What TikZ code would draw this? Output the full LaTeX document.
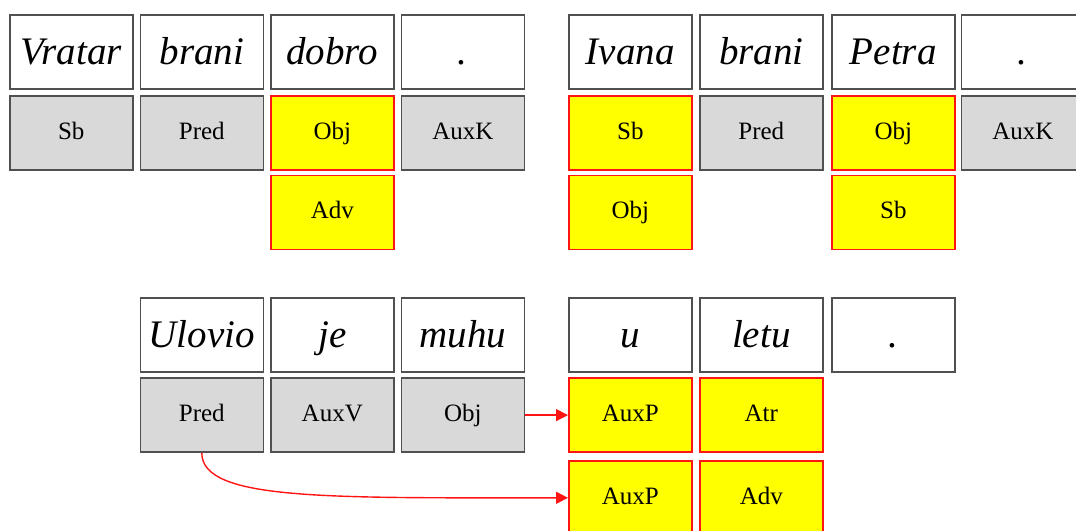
\documentclass[tikz,border=0pt]{standalone}
\usepackage{fontspec}
\setmainfont{Liberation Serif}
\usepackage{tikz}
\usetikzlibrary{arrows.meta,positioning}

\definecolor{tagfill}{RGB}{217,217,217}
\definecolor{altfill}{RGB}{255,255,0}
\definecolor{altline}{RGB}{255,20,20}
\definecolor{boxline}{RGB}{80,80,80}

\tikzset{
	word/.style={draw=boxline, line width=0.8pt, fill=white, anchor=north west, inner sep=0pt,
		text height=14pt, text depth=2pt,
		minimum width=61.5pt, minimum height=37pt, font=\fontsize{19.5}{24}\selectfont\itshape},
	tag/.style={draw=boxline, line width=0.8pt, fill=tagfill, anchor=north west, inner sep=0pt,
		text height=8.5pt, text depth=1.9pt,
		minimum width=61.5pt, minimum height=37pt, font=\fontsize{12.5}{15}\selectfont},
	alt/.style={tag, draw=altline, fill=altfill},
	link/.style={altline, line width=0.7pt, -{Triangle[length=6pt,width=6pt]}}
}

\begin{document}
\begin{tikzpicture}[x=0.5pt,y=-0.5pt]
				\useasboundingbox (0,0) rectangle (1076,530);
				\clip (0,0) rectangle (1076,530);
				% Vratar brani dobro .
				\node[word] (vratar) at (9,14.3) {Vratar};
				\node[word] (brani) at (139.5,14.3) {brani};
				\node[word] (dobro) at (270,14.3) {dobro};
				\node[word] (dotA) at (400.5,14.3) {.};
				\node[tag] (sb) at (9,95) {Sb};
				\node[tag] (pred) at (139.5,95) {Pred};
				\node[alt] (obj) at (270,95) {Obj};
				\node[tag] (auxk) at (400.5,95) {AuxK};
				\node[alt] (adv) at (270,174.5) {Adv};
				% Ivana brani Petra .
				\node[word] (ivana) at (568,14.3) {Ivana};
				\node[word] (braniB) at (699,14.3) {brani};
				\node[word] (petra) at (831,14.3) {Petra};
				\node[word] (dotB) at (960.5,14.3) {.};
				\node[alt] (sbB) at (568,95) {Sb};
				\node[tag] (predB) at (699,95) {Pred};
				\node[alt] (objB) at (831,95) {Obj};
				\node[tag] (auxkB) at (960.5,95) {AuxK};
				\node[alt] (objC) at (568,174.5) {Obj};
				\node[alt] (sbC) at (831,174.5) {Sb};
				% Ulovio je muhu u letu .
				\node[word] (ulovio) at (139.5,297.3) {Ulovio};
				\node[word] (je) at (270,297.3) {je};
				\node[word] (muhu) at (400.5,297.3) {muhu};
				\node[word] (u) at (568,297.3) {u};
				\node[word] (letu) at (699,297.3) {letu};
				\node[word] (dotC) at (831,297.3) {.};
				\node[tag] (predC) at (139.5,377.3) {Pred};
				\node[tag] (auxv) at (270,377.3) {AuxV};
				\node[tag] (objD) at (400.5,377.3) {Obj};
				\node[alt] (auxpA) at (568,377.3) {AuxP};
				\node[alt] (atr) at (699,377.3) {Atr};
				\node[alt] (auxpB) at (568,460) {AuxP};
				\node[alt] (advB) at (699,460) {Adv};
				\draw[link] (objD)--(auxpA);
				\draw[link] (predC.south) .. controls +(0,48) and +(-240,0) .. (auxpB.west);
				\end{tikzpicture}
\end{document}
